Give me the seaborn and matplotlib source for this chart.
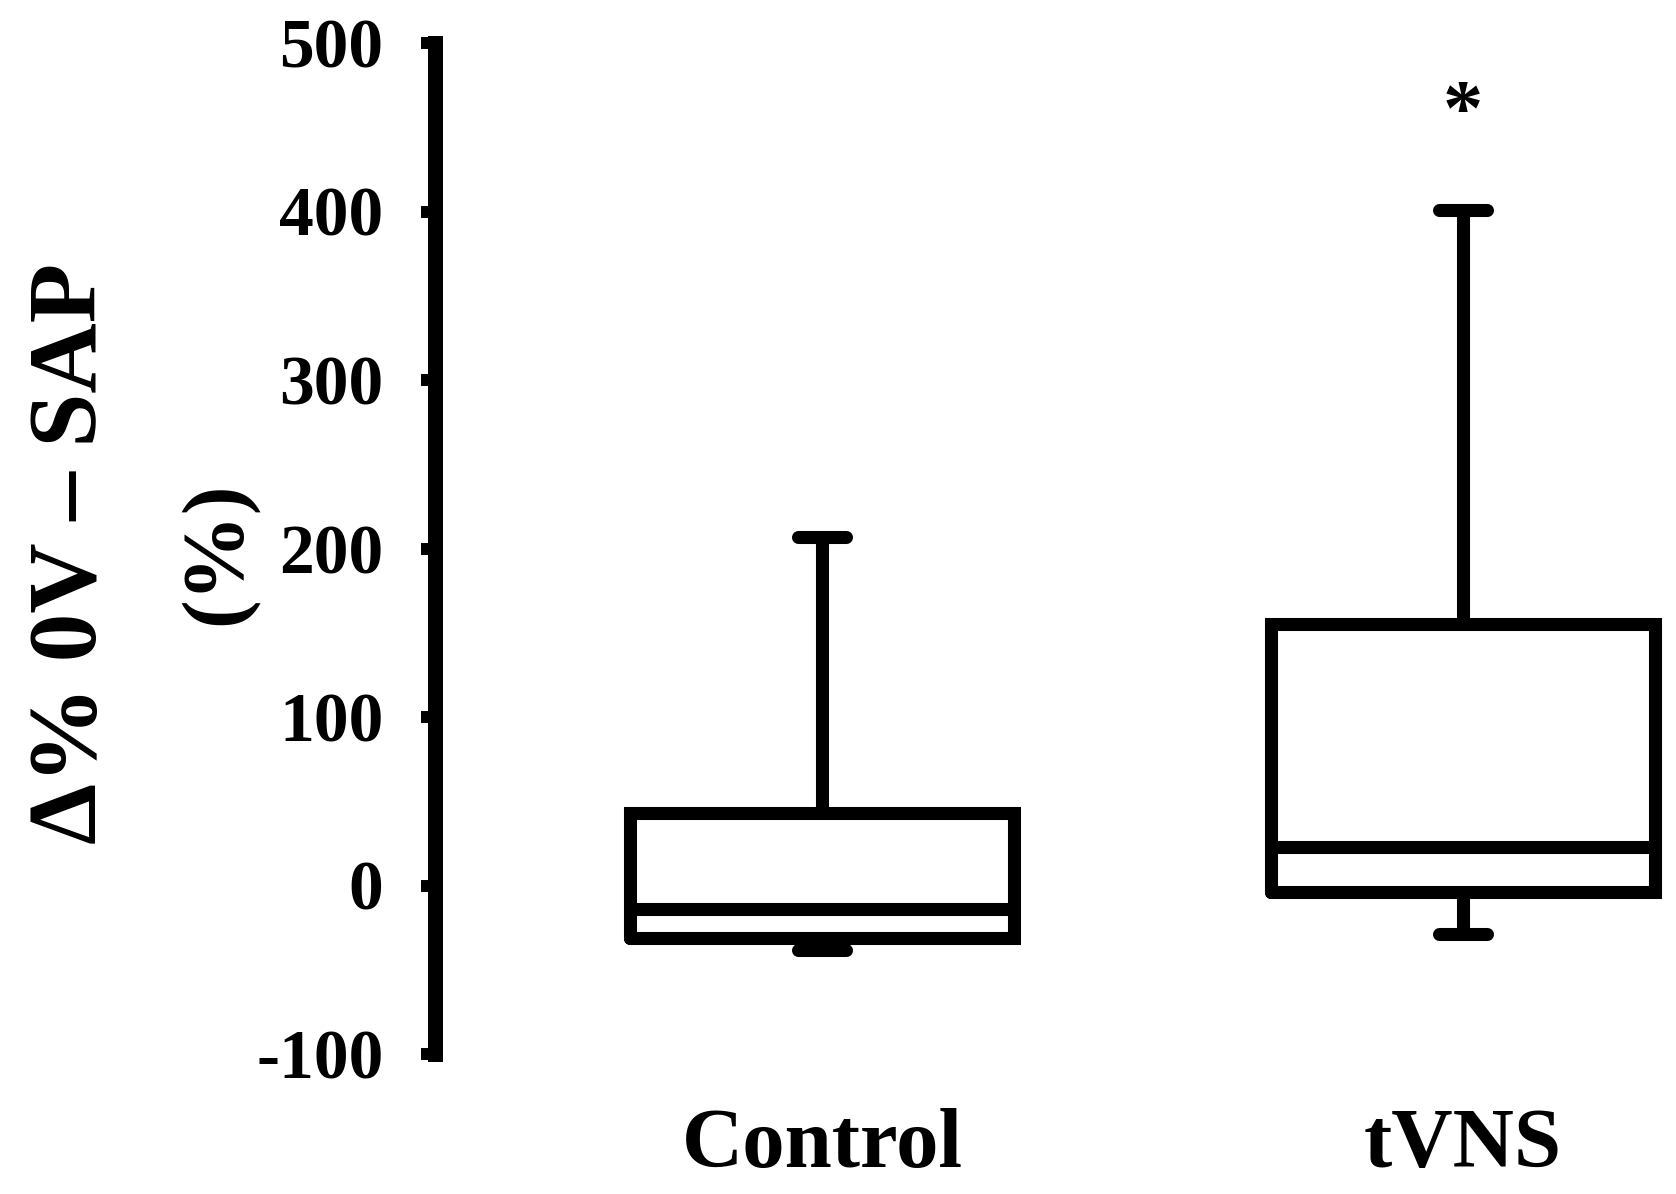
import pandas as pd
import matplotlib
matplotlib.use("Agg")
import matplotlib.pyplot as plt
import seaborn as sns

# five-number summaries (min, q1, median, q3, max)
groups = ["Control", "tVNS"]
control_vals = [-38, -31, -14, 43, 207]
tvns_vals = [-29, -4, 23, 155, 401]
y_ticks = [-100, 0, 100, 200, 300, 400, 500]
star_group = "tVNS"
star_y = 457

df = pd.DataFrame({
    "group": ["Control"] * len(control_vals) + ["tVNS"] * len(tvns_vals),
    "value": control_vals + tvns_vals,
})

sns.set_style("ticks")
plt.rcParams["font.family"] = ["Liberation Serif", "DejaVu Serif"]
plt.rcParams["font.weight"] = "bold"
plt.rcParams["text.color"] = "black"
plt.rcParams["xtick.color"] = "black"
plt.rcParams["ytick.color"] = "black"
plt.rcParams["xtick.labelcolor"] = "black"
plt.rcParams["ytick.labelcolor"] = "black"

fig = plt.figure(figsize=(16.76, 11.94), dpi=100)
ax = fig.add_axes([435 / 1676, 1 - 1054 / 1194, 1241 / 1676, 1011 / 1194])

lw = 9.4
sns.boxplot(data=df, x="group", y="value", order=groups, whis=(0, 100),
            width=0.6, fill=False, color="black", linewidth=lw,
            capwidths=0.075,
            boxprops=dict(solid_joinstyle="miter"),
            medianprops=dict(color="black", linewidth=lw),
            ax=ax)

ax.set_ylim(-100, 500)
ax.set_xlim(-0.604, 1.332)
ax.set_yticks(y_ticks)
ax.set_yticklabels([str(t) for t in y_ticks], fontsize=50, fontweight="bold",
                   color="black")
ax.set_xticklabels(groups, fontsize=61, fontweight="bold", color="black")
ax.tick_params(axis="y", length=10, width=8.6, pad=27, color="black")
ax.tick_params(axis="x", length=0, pad=39)
ax.set_xlabel("")
ax.set_ylabel("")

sns.despine(ax=ax, top=True, right=True, bottom=True)
ax.spines["left"].set_linewidth(10.8)
ax.spines["left"].set_color("black")

# significance marker
ax.text(groups.index(star_group), star_y, "*", ha="center", va="center",
        fontsize=58, fontweight="bold", color="black")

# two-line y label
fig.text(73 / 1676, 1 - 553 / 1194, "\u0394% 0V \u2013 SAP", rotation=90,
         ha="center", va="center", fontsize=70, fontweight="bold", color="black")
fig.text(218 / 1676, 1 - 553 / 1194, "(%)", rotation=90,
         ha="center", va="center", fontsize=62, fontweight="bold", color="black")

fig.savefig("out.png", dpi=100, facecolor="white")
